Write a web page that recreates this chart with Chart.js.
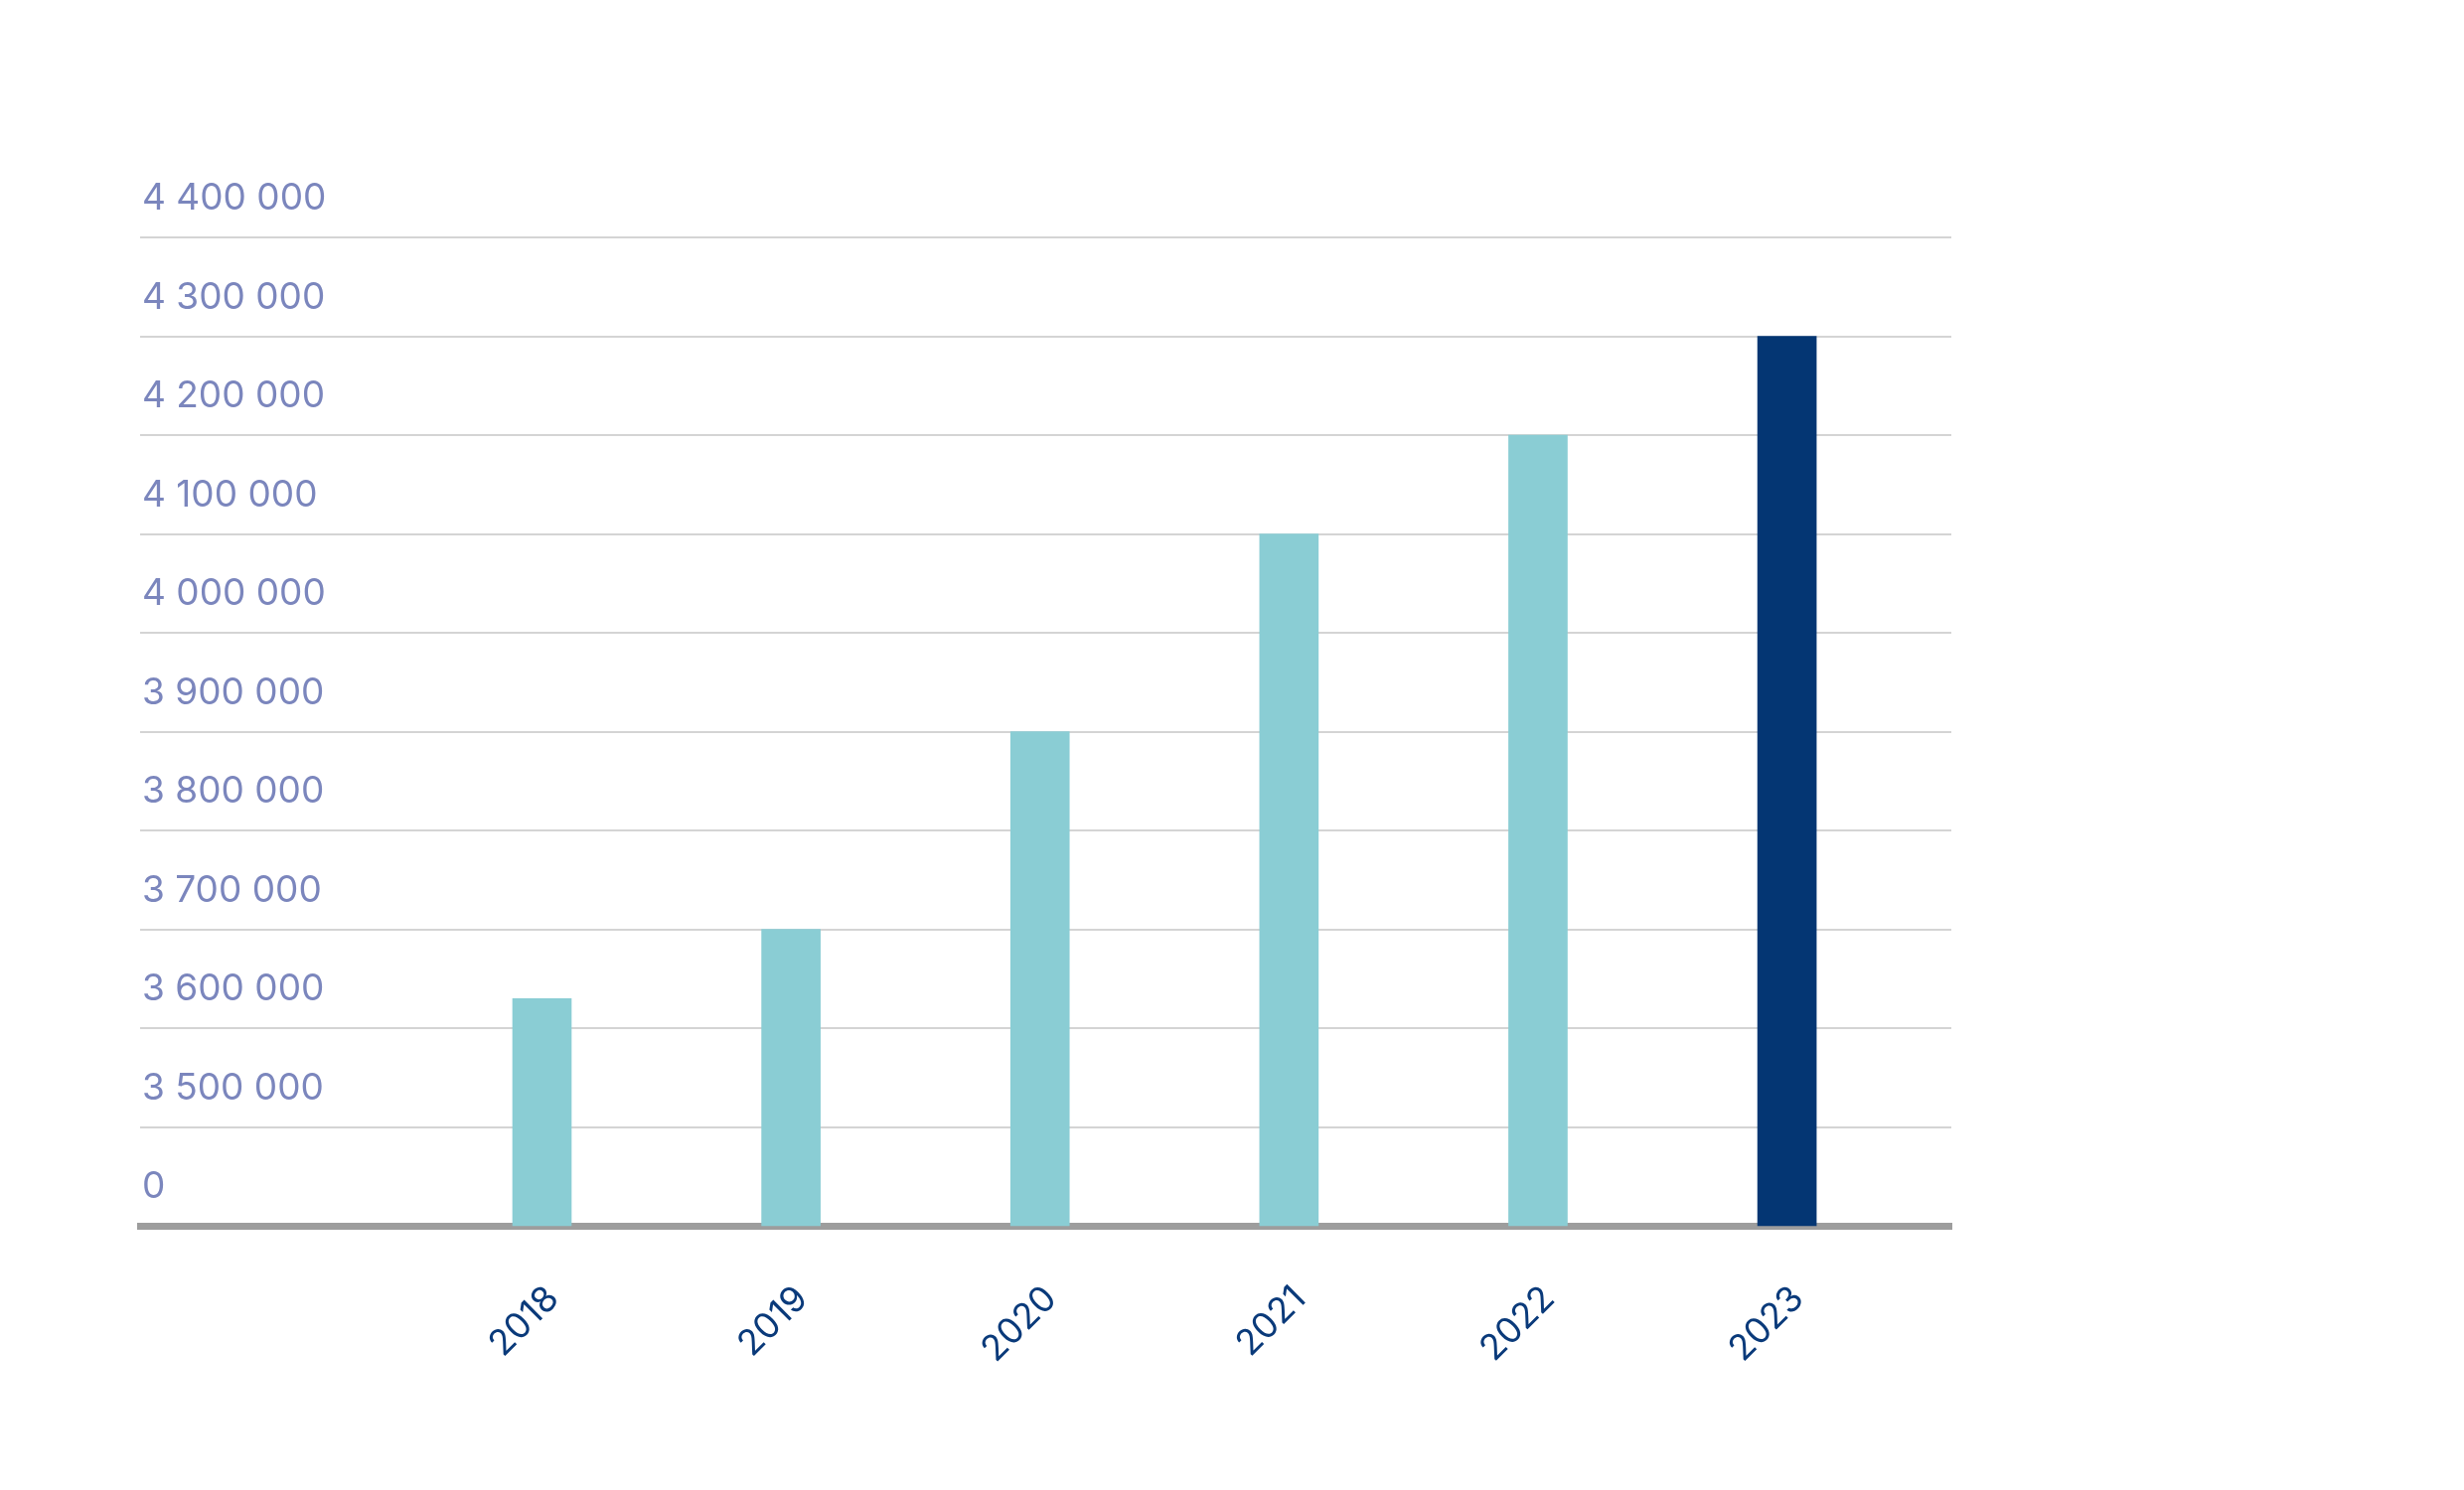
<!DOCTYPE html>
<html lang="en">
<head>
  <meta charset="UTF-8">
  <title>Bar chart 2018-2023</title>
  <script src="https://cdn.jsdelivr.net/npm/chart.js"></script>
  <style>
    html, body { margin: 0; padding: 0; background: #fff; }
    canvas { display: block; }
  </style>
</head>
<body>

<canvas id="barChart" width="2480" height="1500"></canvas>

<script>
    // Data
    const years = ['2018', '2019', '2020', '2021', '2022', '2023'];
    const values = [3630000, 3700000, 3900000, 4100000, 4200000, 4300000];

    // Axis: broken scale, bottom step is labelled "0"
    const yBreak = 3400000;
    const yMax = 4400000;
    const yStep = 100000;

    const teal = '#8acdd4';
    const navy = '#043673';

    const fmt = v => String(v).replace(/\B(?=(\d{3})+(?!\d))/g, ' ');

    const ctx = document.getElementById('barChart').getContext('2d');
    new Chart(ctx, {
        type: 'bar',
        data: {
            datasets: [{
                data: years.map((y, i) => ({ x: i, y: values[i] })),
                backgroundColor: years.map((y, i) => i === years.length - 1 ? navy : teal),
                barThickness: 59,
                borderWidth: 0
            }]
        },
        options: {
            responsive: false,
            animation: false,
            layout: {
                padding: { left: 137, right: 516, top: 239, bottom: 76 }
            },
            plugins: {
                legend: { display: false },
                tooltip: { enabled: false }
            },
            scales: {
                x: {
                    type: 'linear',
                    offset: false,
                    min: -1.614,
                    max: 5.66,
                    afterBuildTicks: s => { s.ticks = years.map((y, i) => ({ value: i })); },
                    grid: { display: false },
                    border: { color: '#9d9d9d', width: 7 },
                    ticks: {
                        callback: v => years[v],
                        minRotation: 45,
                        maxRotation: 45,
                        padding: 44,
                        labelOffset: 11,
                        color: '#0a3a7a',
                        font: { family: 'Inter', size: 36 }
                    }
                },
                y: {
                    min: yBreak,
                    max: yMax,
                    grid: { color: '#d4d4d4', lineWidth: 2, drawTicks: false },
                    border: { display: false },
                    ticks: {
                        stepSize: yStep,
                        mirror: true,
                        padding: 2,
                        labelOffset: -39,
                        color: '#7b86bd',
                        font: { family: 'Inter', size: 37 },
                        callback: v => v === yBreak ? '0' : fmt(v)
                    }
                }
            }
        }
    });
</script>

</body>
</html>
